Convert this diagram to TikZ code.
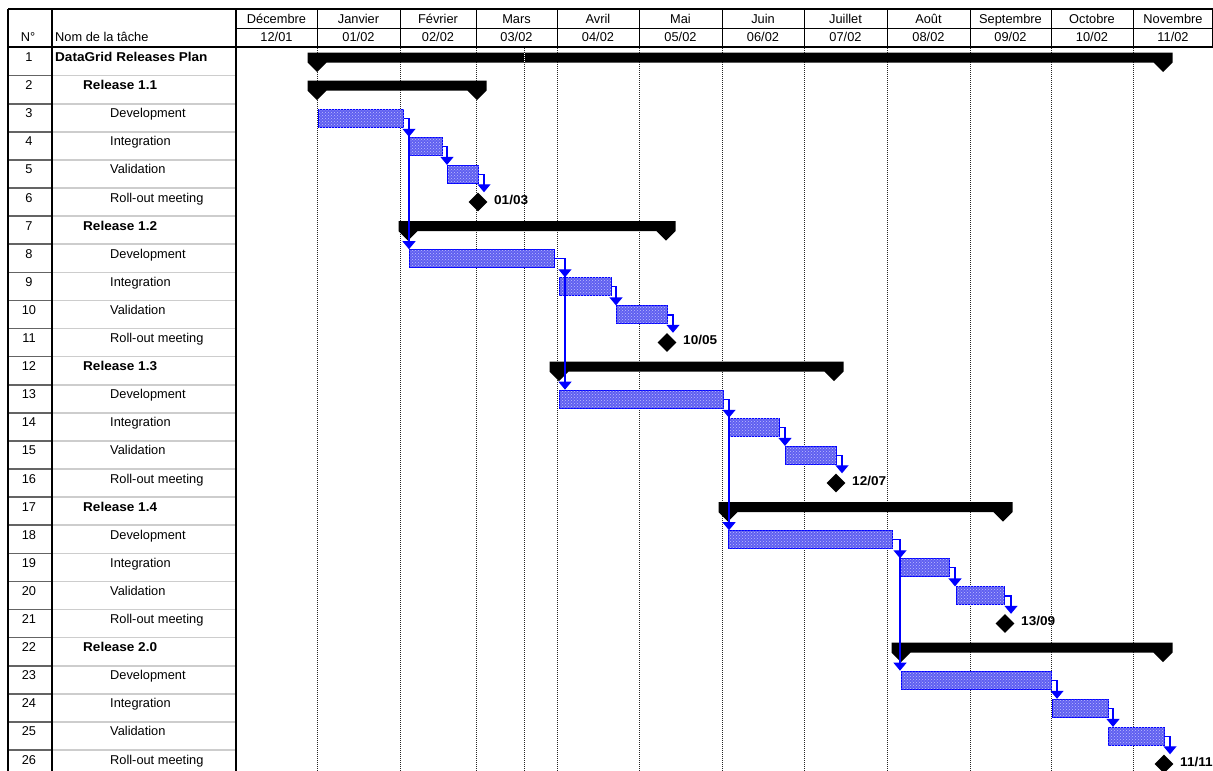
\documentclass[tikz,border=0pt]{standalone}
\usepackage{fontspec}
\setmainfont{Liberation Sans}[BoldFeatures={FakeStretch=1.06}]
\usetikzlibrary{arrows.meta,shapes.geometric,patterns}
\definecolor{barfill}{RGB}{95,95,240}
\definecolor{bardot}{RGB}{190,190,255}
\definecolor{barline}{RGB}{0,0,255}
\definecolor{rowdark}{RGB}{100,100,100}
\definecolor{rowlight}{RGB}{205,205,205}
\newcommand\T[1]{(47.5+28.1*(#1-1))}
\newcommand\ganttsum[3]{%
  \fill[black] ({#2-9.5},{\T{#1}+5}) -- ({#3+9.5},{\T{#1}+5}) -- ({#3+9.5},{\T{#1}+15})
   -- (#3,{\T{#1}+24.5}) -- ({#3-9.5},{\T{#1}+15}) -- ({#2+9.5},{\T{#1}+15})
   -- (#2,{\T{#1}+24.5}) -- ({#2-9.5},{\T{#1}+15}) -- cycle;}
\begin{document}
\begin{tikzpicture}[x=1pt,y=-1pt,
  every node/.style={font=\fontsize{12.8}{15}\selectfont, inner sep=0pt},
  numtext/.style={anchor=base},
  nametext/.style={anchor=base west},
  hdrtext/.style={anchor=base},
  taskbar/.style={draw=barline, line width=1pt, fill=barfill, minimum height=18pt, anchor=north west, inner sep=0pt,
    postaction={pattern=crosshatch dots, pattern color=bardot}},
  milestone/.style={diamond, aspect=1, fill=black, minimum width=19pt, minimum height=19pt, inner sep=0pt},
  mslabel/.style={anchor=base west, font=\fontsize{12.8}{15}\selectfont\bfseries},
  conn/.style={draw=barline, line width=1.3pt, -{Triangle[width=13pt,length=8pt]}},
  grid/.style={black!85, line width=0.8pt, dash pattern=on 1pt off 1pt},
  border/.style={black, line width=1.4pt}
]
\useasboundingbox (0,0) rectangle (1213,771);
\fill[white] (0,0) rectangle (1213,771);

% dotted month grid lines
\foreach \x in {317,400,476,524,557,639,722,804,887,970,1051,1133}
  \draw[grid] (\x,48) -- (\x,771);

% row separators in the table
\foreach \i in {2,...,26}{
  \draw[rowdark, line width=1.6pt] (8,{\T{\i}}) -- (52,{\T{\i}});
  \draw[rowlight, line width=1.6pt] (52,{\T{\i}}) -- (236,{\T{\i}});
}

% table borders
\draw[border] (8,9) -- (1212.5,9);
\draw[black, line width=1pt] (236,28) -- (1212.5,28);
\draw[border] (8,47) -- (1212.5,47);
\draw[border] (8,9) -- (8,771);
\draw[border] (52,9) -- (52,771);
\draw[border] (236,9) -- (236,771);
\draw[black, line width=1pt] (1212.5,9) -- (1212.5,47);
\foreach \x in {317,400,476,557,639,722,804,887,970,1051,1133}
  \draw[black, line width=1pt] (\x,9) -- (\x,47);

% header texts
\node[hdrtext] (hN) at (28,41.5) {N°};
\node[nametext] (hName) at (55,41.5) {Nom de la tâche};
\foreach \a/\b/\m/\d [count=\k] in {236/317/Décembre/12\slash01,317/400/Janvier/01\slash02,400/476/Février/02\slash02,476/557/Mars/03\slash02,557/639/Avril/04\slash02,639/722/Mai/05\slash02,722/804/Juin/06\slash02,804/887/Juillet/07\slash02,887/970/Août/08\slash02,970/1051/Septembre/09\slash02,1051/1133/Octobre/10\slash02,1133/1213/Novembre/11\slash02}{
  \node[hdrtext] (hm\k) at ({(\a+\b)/2},23.5) {\m};
  \node[hdrtext] (hd\k) at ({(\a+\b)/2},41.5) {\d};
}

% row numbers
\foreach \i in {1,...,26}
  \node[numtext] (n\i) at (29,{\T{\i}+14}) {\i};

% task names
\node[nametext] (l1) at (55,{\T{1}+14}) {\bfseries DataGrid Releases Plan};
\foreach \r/\nm [count=\k] in {2/1.1,7/1.2,12/1.3,17/1.4,22/2.0}{
  \node[nametext] (lr\k) at (83,{\T{\r}+14}) {\bfseries Release \nm};
  \node[nametext] (ld\k) at (110,{\T{\r+1}+14}) {Development};
  \node[nametext] (li\k) at (110,{\T{\r+2}+14}) {Integration};
  \node[nametext] (lv\k) at (110,{\T{\r+3}+14}) {Validation};
  \node[nametext] (lm\k) at (110,{\T{\r+4}+14}) {Roll-out meeting};
}

% summary bars
\ganttsum{1}{317}{1163}
\draw[white, line width=0.8pt, dash pattern=on 1pt off 1pt] (524,{\T{1}+5}) -- (524,{\T{1}+15});
\ganttsum{2}{317}{477}
\ganttsum{7}{408}{666}
\ganttsum{12}{559}{834}
\ganttsum{17}{728}{1003}
\ganttsum{22}{901}{1163}

% task bars
\node[taskbar, minimum width=85pt] (t3) at (318,{\T{3}+5}) {};
\node[taskbar, minimum width=33pt] (t4) at (409,{\T{4}+5}) {};
\node[taskbar, minimum width=31pt] (t5) at (447,{\T{5}+5}) {};
\node[taskbar, minimum width=145pt] (t8) at (409,{\T{8}+5}) {};
\node[taskbar, minimum width=52pt] (t9) at (559,{\T{9}+5}) {};
\node[taskbar, minimum width=51pt] (t10) at (616,{\T{10}+5}) {};
\node[taskbar, minimum width=164pt] (t13) at (559,{\T{13}+5}) {};
\node[taskbar, minimum width=50pt] (t14) at (729,{\T{14}+5}) {};
\node[taskbar, minimum width=51pt] (t15) at (785,{\T{15}+5}) {};
\node[taskbar, minimum width=164pt] (t18) at (728,{\T{18}+5}) {};
\node[taskbar, minimum width=50pt] (t19) at (899,{\T{19}+5}) {};
\node[taskbar, minimum width=48pt] (t20) at (956,{\T{20}+5}) {};
\node[taskbar, minimum width=150pt] (t23) at (901,{\T{23}+5}) {};
\node[taskbar, minimum width=56pt] (t24) at (1052,{\T{24}+5}) {};
\node[taskbar, minimum width=56pt] (t25) at (1108,{\T{25}+5}) {};

% milestones
\node[milestone] (m6) at (478,{\T{6}+14}) {};
\node[milestone] (m11) at (667,{\T{11}+14}) {};
\node[milestone] (m16) at (836,{\T{16}+14}) {};
\node[milestone] (m21) at (1005,{\T{21}+14}) {};
\node[milestone] (m26) at (1164,{\T{26}+14}) {};
\node[mslabel] (ml6) at (494,{\T{6}+16}) {01/03};
\node[mslabel] (ml11) at (683,{\T{11}+16}) {10/05};
\node[mslabel] (ml16) at (852,{\T{16}+16}) {12/07};
\node[mslabel] (ml21) at (1021,{\T{21}+16}) {13/09};
\node[mslabel] (ml26) at (1180,{\T{26}+16}) {11/11};

% connectors
\draw[conn] (t3.east) -| (409,0 |- t8.north);
\draw[conn] (t3.east) -| (409,0 |- t4.north);
\draw[conn] (t4.east) -| (447,0 |- t5.north);
\draw[conn] (t5.east) -| (484,0 |- m6.north);
\draw[conn] (t8.east) -| (565,0 |- t13.north);
\draw[conn] (t8.east) -| (565,0 |- t9.north);
\draw[conn] (t9.east) -| (616,0 |- t10.north);
\draw[conn] (t10.east) -| (673,0 |- m11.north);
\draw[conn] (t13.east) -| (729,0 |- t18.north);
\draw[conn] (t13.east) -| (729,0 |- t14.north);
\draw[conn] (t14.east) -| (785,0 |- t15.north);
\draw[conn] (t15.east) -| (842,0 |- m16.north);
\draw[conn] (t18.east) -| (900,0 |- t23.north);
\draw[conn] (t18.east) -| (900,0 |- t19.north);
\draw[conn] (t19.east) -| (955,0 |- t20.north);
\draw[conn] (t20.east) -| (1011,0 |- m21.north);
\draw[conn] (t23.east) -| (1057,0 |- t24.north);
\draw[conn] (t24.east) -| (1113,0 |- t25.north);
\draw[conn] (t25.east) -| (1170,0 |- m26.north);
\end{tikzpicture}
\end{document}
